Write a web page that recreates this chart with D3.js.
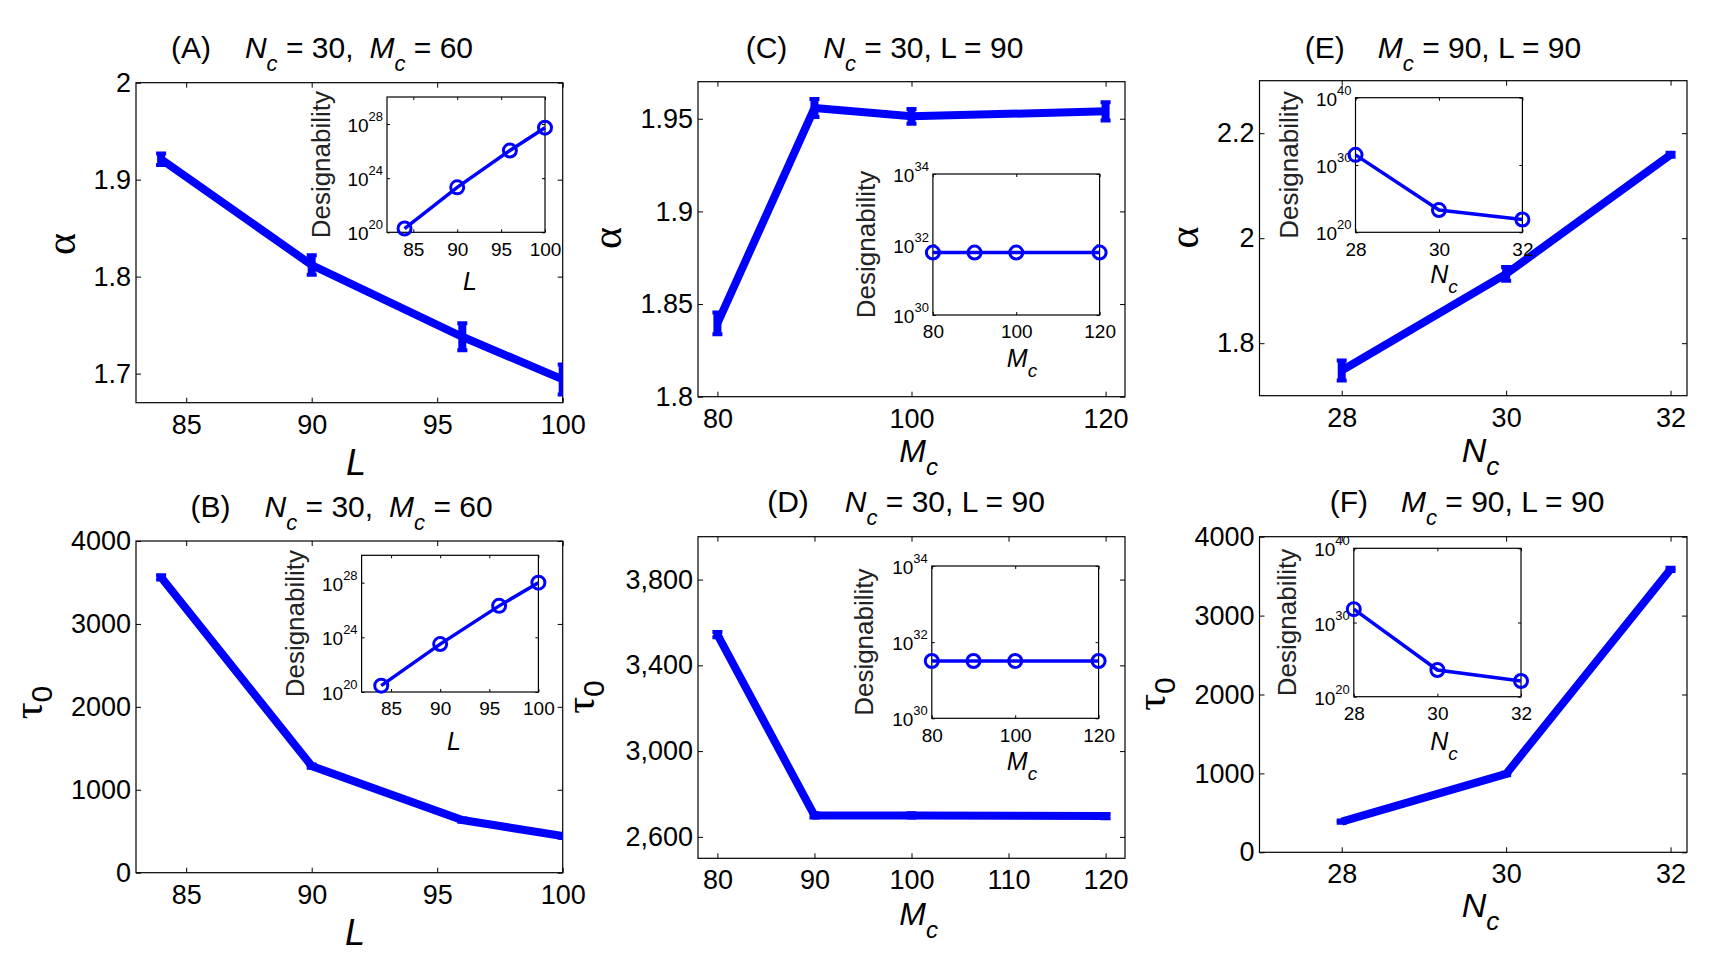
<!DOCTYPE html>
<html>
<head>
<meta charset="utf-8">
<script src="https://cdn.jsdelivr.net/npm/d3@7"></script>
<style>
  body { margin: 0; background: #fff; }
</style>
</head>
<body>
<script>
// ---- data ----
// L series (panels A, B)
const lValues      = [84, 90, 96, 100];
const alphaByL     = [1.921, 1.812, 1.738, 1.694];
const alphaByLErr  = [0.006, 0.010, 0.014, 0.0155];
const tauByL       = [3562, 1286, 635, 442];
const tauByLErr    = [25, 20, 20, 20];
const designByL_A  = [1.9e20, 2.1e23, 1.1e26, 5.4e27];
const designByL_B  = [2.9e20, 3.2e23, 2.0e26, 1.0e28];

// M_c series (panels C, D)
const mcValues     = [80, 90, 100, 120];
const alphaByMc    = [1.8396, 1.9558, 1.9513, 1.954];
const alphaByMcErr = [0.0059, 0.0048, 0.004, 0.0049];
const tauByMc      = [3543, 2700, 2700, 2697];
const tauByMcErr   = [12, 10, 10, 10];
const designByMc_C = [5.9e31, 5.9e31, 5.9e31, 5.9e31];
const designByMc_D = [3.2e31, 3.2e31, 3.2e31, 3.2e31];

// N_c series (panels E, F)
const ncValues     = [28, 30, 32];
const alphaByNc    = [1.748, 1.932, 2.159];
const alphaByNcErr = [0.019, 0.013, 0.004];
const tauByNc      = [389, 993, 3586];
const tauByNcErr   = [15, 15, 20];
const designByNc_E = [3.2e31, 2.0e23, 7.9e21];
const designByNc_F = [6.3e31, 4.0e23, 1.3e22];

// tick values
const lTicks        = [85, 90, 95, 100];
const mcTicksC      = [80, 100, 120];
const mcTicksD      = [80, 90, 100, 110, 120];
const ncTicks       = [28, 30, 32];
const alphaTicksA   = [1.7, 1.8, 1.9, 2];
const alphaTicksC   = [1.8, 1.85, 1.9, 1.95];
const alphaTicksE   = [1.8, 2, 2.2];
const tauTicks      = [0, 1000, 2000, 3000, 4000];
const tauTicksD     = [2600, 3000, 3400, 3800];
const designTicksL  = [1e20, 1e24, 1e28];
const designTicksMc = [1e30, 1e32, 1e34];
const designTicksNc = [1e20, 1e30, 1e40];

const FONT = "'Liberation Sans', Arial, Helvetica, sans-serif";
const SERIF = "'Liberation Serif', 'Times New Roman', serif";
const BLUE = "#0000ff";

const svg = d3.select("body").append("svg")
  .attr("width", 1725).attr("height", 975)
  .style("background", "#fff");

// text made of parts: {t, it, sub, serif, dx}
function richText(sel, parts, subSize, subDy) {
  let inSub = false;
  parts.forEach(p => {
    const ts = sel.append("tspan").text(p.t);
    if (p.it) ts.attr("font-style", "italic");
    if (p.serif) ts.attr("font-family", SERIF);
    if (p.dx) ts.attr("dx", p.dx);
    if (p.sub && !inSub) { ts.attr("dy", subDy); inSub = true; }
    else if (!p.sub && inSub) { ts.attr("dy", -subDy); inSub = false; }
    if (p.sub) ts.attr("font-size", subSize);
  });
}

let clipId = 0;

function drawPanel(p) {
  const g = svg.append("g");
  const [x0, y0, x1, y1] = p.box;
  const x = d3.scaleLinear().domain(p.xDomain).range([x0, x1]);
  const y = d3.scaleLinear().domain(p.yDomain).range([y1, y0]);

  const styleAxis = (sel, size) => {
    sel.select(".domain").remove();
    sel.selectAll("line").attr("stroke", "#000").attr("stroke-width", 1);
    sel.selectAll("text").attr("font-size", size).attr("font-family", FONT).attr("fill", "#000");
  };

  g.append("g").attr("transform", `translate(0,${y1})`)
    .call(d3.axisBottom(x).tickValues(p.xTicks).tickSizeInner(-5).tickSizeOuter(0).tickPadding(12).tickFormat(d => String(d)))
    .call(s => styleAxis(s, 27));
  g.append("g").attr("transform", `translate(0,${y0})`)
    .call(d3.axisTop(x).tickValues(p.xTicks).tickSizeInner(-5).tickSizeOuter(0).tickFormat(""))
    .call(s => styleAxis(s, 27));
  g.append("g").attr("transform", `translate(${x0},0)`)
    .call(d3.axisLeft(y).tickValues(p.yTicks).tickSizeInner(-5).tickSizeOuter(0).tickPadding(5).tickFormat(p.yFormat))
    .call(s => styleAxis(s, 27));
  g.append("g").attr("transform", `translate(${x1},0)`)
    .call(d3.axisRight(y).tickValues(p.yTicks).tickSizeInner(-5).tickSizeOuter(0).tickFormat(""))
    .call(s => styleAxis(s, 27));

  g.append("rect")
    .attr("x", x0).attr("y", y0).attr("width", x1 - x0).attr("height", y1 - y0)
    .attr("fill", "none").attr("stroke", "#000").attr("stroke-width", 1.2);

  // data, clipped to the axes box
  const id = "clip" + (clipId++);
  g.append("clipPath").attr("id", id).append("rect")
    .attr("x", x0).attr("y", y0).attr("width", x1 - x0).attr("height", y1 - y0);
  const plot = g.append("g").attr("clip-path", `url(#${id})`);
  const pts = d3.zip(p.xs, p.ys, p.errs);

  plot.append("path").datum(pts)
    .attr("d", d3.line().x(d => x(d[0])).y(d => y(d[1])))
    .attr("fill", "none").attr("stroke", BLUE).attr("stroke-width", 8)
    .attr("stroke-linejoin", "miter");

  plot.selectAll(".eb").data(pts).enter().append("line")
    .attr("x1", d => x(d[0])).attr("x2", d => x(d[0]))
    .attr("y1", d => y(d[1] - d[2])).attr("y2", d => y(d[1] + d[2]))
    .attr("stroke", BLUE).attr("stroke-width", 8);
  [-1, 1].forEach(s => {
    plot.selectAll(".cap").data(pts).enter().append("line")
      .attr("x1", d => x(d[0]) - 5).attr("x2", d => x(d[0]) + 5)
      .attr("y1", d => y(d[1] + s * d[2])).attr("y2", d => y(d[1] + s * d[2]))
      .attr("stroke", BLUE).attr("stroke-width", 4);
  });

  // title
  richText(g.append("text")
    .attr("x", p.title.cx).attr("y", p.title.by)
    .attr("text-anchor", "middle").attr("font-family", FONT).attr("font-size", 30),
    p.title.parts, 22, 13);

  // x label
  const xs = p.xLabel.size;
  richText(g.append("text")
    .attr("x", p.xLabel.cx).attr("y", p.xLabel.by)
    .attr("text-anchor", "middle").attr("font-family", FONT).attr("font-size", xs),
    p.xLabel.parts, Math.round(xs * 0.75), 13);

  // y label (rotated)
  richText(g.append("text")
    .attr("transform", `translate(${p.yLabel.bx},${p.yLabel.cy}) rotate(-90)`)
    .attr("text-anchor", "middle").attr("font-family", FONT).attr("font-size", 42),
    p.yLabel.parts, 30, 10);

  drawInset(g, p.inset);
}

function drawInset(g, q) {
  const [x0, y0, x1, y1] = q.box;
  const x = d3.scaleLinear().domain(q.xDomain).range([x0, x1]);
  const y = d3.scaleLog().domain(q.yDomain).range([y1, y0]);
  const ig = g.append("g");

  ig.append("rect")
    .attr("x", x0).attr("y", y0).attr("width", x1 - x0).attr("height", y1 - y0)
    .attr("fill", "#fff").attr("stroke", "#000").attr("stroke-width", 1.2);

  const tidy = sel => {
    sel.select(".domain").remove();
    sel.selectAll("line").attr("stroke", "#000").attr("stroke-width", 1);
    sel.selectAll("text").attr("font-size", 19).attr("font-family", FONT).attr("fill", "#000");
  };
  ig.append("g").attr("transform", `translate(0,${y1})`)
    .call(d3.axisBottom(x).tickValues(q.xTicks).tickSizeInner(-3).tickSizeOuter(0).tickPadding(10).tickFormat(d => String(d)))
    .call(tidy);
  ig.append("g").attr("transform", `translate(0,${y0})`)
    .call(d3.axisTop(x).tickValues(q.xTicks).tickSizeInner(-3).tickSizeOuter(0).tickFormat(""))
    .call(tidy);
  ig.append("g").attr("transform", `translate(${x0},0)`)
    .call(d3.axisLeft(y).tickValues(q.yTicks).tickSizeInner(-3).tickSizeOuter(0).tickFormat(""))
    .call(tidy);
  ig.append("g").attr("transform", `translate(${x1},0)`)
    .call(d3.axisRight(y).tickValues(q.yTicks).tickSizeInner(-3).tickSizeOuter(0).tickFormat(""))
    .call(tidy);

  // 10^n tick labels
  q.yTicks.forEach(v => {
    const t = ig.append("text")
      .attr("x", x0 - 4).attr("y", y(v) + 8)
      .attr("text-anchor", "end").attr("font-family", FONT).attr("font-size", 19).attr("fill", "#000");
    t.append("tspan").text("10");
    t.append("tspan").attr("dy", -11).attr("font-size", 13).text(Math.round(Math.log10(v)));
  });

  const pts = d3.zip(q.xs, q.ys);
  ig.append("path").datum(pts)
    .attr("d", d3.line().x(d => x(d[0])).y(d => y(d[1])))
    .attr("fill", "none").attr("stroke", BLUE).attr("stroke-width", 3.5);
  ig.selectAll("circle").data(pts).enter().append("circle")
    .attr("cx", d => x(d[0])).attr("cy", d => y(d[1])).attr("r", 6.5)
    .attr("fill", "none").attr("stroke", BLUE).attr("stroke-width", 3);

  ig.append("text")
    .attr("transform", `translate(${q.desX + 7},${(y0 + y1) / 2}) rotate(-90)`)
    .attr("text-anchor", "middle").attr("font-family", FONT).attr("font-size", 26)
    .attr("fill", "#222").text("Designability");

  richText(ig.append("text")
    .attr("x", q.xLabel.cx).attr("y", q.xLabel.by)
    .attr("text-anchor", "middle").attr("font-family", FONT).attr("font-size", 25),
    q.xLabel.parts, 19, 10);
}

const lblL = [{ t: "L", it: true }];
const lblMc = [{ t: "M", it: true }, { t: "c", it: true, sub: true }];
const lblNc = [{ t: "N", it: true }, { t: "c", it: true, sub: true }];
const lblAlpha = [{ t: "α", serif: true }];
const lblTau = [{ t: "τ", serif: true }, { t: "0", sub: true }];
const plain = d => String(d);

const titleL = tag => [
  { t: tag }, { t: "N", it: true, dx: 34 }, { t: "c", it: true, sub: true },
  { t: " = 30," }, { t: "M", it: true, dx: 16 }, { t: "c", it: true, sub: true }, { t: " = 60" }
];
const titleMc = tag => [
  { t: tag }, { t: "N", it: true, dx: 36 }, { t: "c", it: true, sub: true }, { t: " = 30, L = 90" }
];
const titleNc = tag => [
  { t: tag }, { t: "M", it: true, dx: 33 }, { t: "c", it: true, sub: true }, { t: " = 90, L = 90" }
];

const panels = [
  { // A
    box: [136, 82.7, 562.7, 402.7], xDomain: [83, 100], yDomain: [1.67, 2],
    xTicks: lTicks, yTicks: alphaTicksA, yFormat: plain,
    xs: lValues, ys: alphaByL, errs: alphaByLErr,
    title: { cx: 322, by: 58, parts: titleL("(A)") },
    xLabel: { cx: 356, by: 475, size: 36, parts: lblL },
    yLabel: { bx: 75, cy: 244, parts: lblAlpha },
    inset: { box: [387, 97, 545, 232.3], xDomain: [82, 100], yDomain: [1e20, 1e30],
      xTicks: lTicks, yTicks: designTicksL, xs: lValues, ys: designByL_A, desX: 323,
      xLabel: { cx: 470, by: 290, parts: lblL } }
  },
  { // B
    box: [136, 541, 562.7, 872.7], xDomain: [83, 100], yDomain: [0, 4000],
    xTicks: lTicks, yTicks: tauTicks, yFormat: plain,
    xs: lValues, ys: tauByL, errs: tauByLErr,
    title: { cx: 341.6, by: 516.7, parts: titleL("(B)") },
    xLabel: { cx: 355, by: 945, size: 36, parts: lblL },
    yLabel: { bx: 42, cy: 702.5, parts: lblTau },
    inset: { box: [361.6, 555.3, 538.4, 692], xDomain: [82, 100], yDomain: [1e20, 1e30],
      xTicks: lTicks, yTicks: designTicksL, xs: lValues, ys: designByL_B, desX: 297,
      xLabel: { cx: 454, by: 750, parts: lblL } }
  },
  { // C
    box: [698, 81.7, 1125, 396.7], xDomain: [78, 122], yDomain: [1.8, 1.97],
    xTicks: mcTicksC, yTicks: alphaTicksC, yFormat: plain,
    xs: mcValues, ys: alphaByMc, errs: alphaByMcErr,
    title: { cx: 884.5, by: 58, parts: titleMc("(C)") },
    xLabel: { cx: 918.6, by: 462, size: 32, parts: lblMc },
    yLabel: { bx: 621, cy: 238, parts: lblAlpha },
    inset: { box: [932.9, 174, 1099.6, 315], xDomain: [80, 120], yDomain: [1e30, 1e34],
      xTicks: mcTicksC, yTicks: designTicksMc, xs: mcValues, ys: designByMc_C, desX: 867.5,
      xLabel: { cx: 1022, by: 366.7, parts: lblMc } }
  },
  { // D
    box: [698, 536.7, 1125, 858.3], xDomain: [78, 122], yDomain: [2500, 4000],
    xTicks: mcTicksD, yTicks: tauTicksD, yFormat: d3.format(","),
    xs: mcValues, ys: tauByMc, errs: tauByMcErr,
    title: { cx: 906, by: 511.7, parts: titleMc("(D)") },
    xLabel: { cx: 918.6, by: 925, size: 32, parts: lblMc },
    yLabel: { bx: 594, cy: 697, parts: lblTau },
    inset: { box: [931.8, 566, 1098.6, 718.3], xDomain: [80, 120], yDomain: [1e30, 1e34],
      xTicks: mcTicksC, yTicks: designTicksMc, xs: mcValues, ys: designByMc_D, desX: 865.7,
      xLabel: { cx: 1022, by: 770, parts: lblMc } }
  },
  { // E
    box: [1259.5, 80.7, 1687, 395.7], xDomain: [27, 32.2], yDomain: [1.7, 2.3],
    xTicks: ncTicks, yTicks: alphaTicksE, yFormat: plain,
    xs: ncValues, ys: alphaByNc, errs: alphaByNcErr,
    title: { cx: 1443, by: 58, parts: titleNc("(E)") },
    xLabel: { cx: 1480.5, by: 462, size: 34, parts: lblNc },
    yLabel: { bx: 1198, cy: 237.5, parts: lblAlpha },
    inset: { box: [1355.5, 97.7, 1522.4, 232.3], xDomain: [28, 32], yDomain: [1e20, 1e40],
      xTicks: ncTicks, yTicks: designTicksNc, xs: ncValues, ys: designByNc_E, desX: 1291,
      xLabel: { cx: 1444, by: 283.3, parts: lblNc } }
  },
  { // F
    box: [1259.5, 536.7, 1687, 852.3], xDomain: [27, 32.2], yDomain: [0, 4000],
    xTicks: ncTicks, yTicks: tauTicks, yFormat: plain,
    xs: ncValues, ys: tauByNc, errs: tauByNcErr,
    title: { cx: 1467, by: 511.7, parts: titleNc("(F)") },
    xLabel: { cx: 1480.5, by: 917, size: 34, parts: lblNc },
    yLabel: { bx: 1165, cy: 694, parts: lblTau },
    inset: { box: [1353.8, 548.3, 1521, 696.7], xDomain: [28, 32], yDomain: [1e20, 1e40],
      xTicks: ncTicks, yTicks: designTicksNc, xs: ncValues, ys: designByNc_F, desX: 1289,
      xLabel: { cx: 1444, by: 750, parts: lblNc } }
  }
];

panels.forEach(drawPanel);
</script>
</body>
</html>
